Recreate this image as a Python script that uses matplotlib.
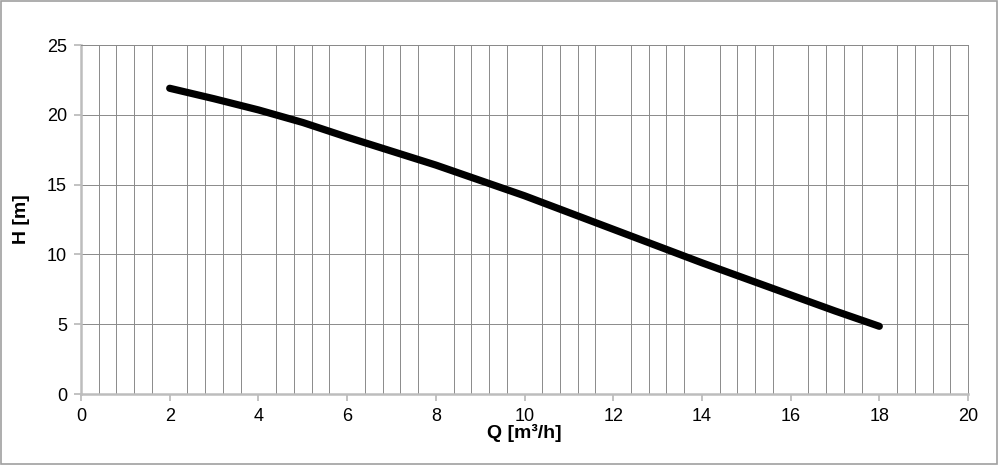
import matplotlib.pyplot as plt
from matplotlib.ticker import MultipleLocator
from matplotlib.patches import Rectangle

plt.rcParams['font.family'] = ['Liberation Sans', 'DejaVu Sans']

# pump curve
q = [2, 3, 4, 5, 6, 7, 8, 9, 10, 11, 12, 13, 14, 15, 16, 17, 18]
h = [21.9, 21.15, 20.35, 19.45, 18.4, 17.4, 16.4, 15.3, 14.2, 13.0, 11.8, 10.6, 9.4, 8.25, 7.1, 5.95, 4.85]

fig = plt.figure(figsize=(9.99, 4.65), dpi=100)
ax = fig.add_axes([81 / 999, 71 / 465, 887 / 999, 349 / 465])

ax.plot(q, h, color='black', lw=5.2, solid_capstyle='round', solid_joinstyle='round', zorder=3)

ax.set_xlim(0, 20)
ax.set_ylim(0, 25)
ax.xaxis.set_major_locator(MultipleLocator(2))
ax.xaxis.set_minor_locator(MultipleLocator(0.4))
ax.yaxis.set_major_locator(MultipleLocator(5))

ax.grid(False)
ax.grid(True, axis='x', which='minor', color='#8a8a8a', lw=0.7)
ax.grid(True, axis='y', which='major', color='#8a8a8a', lw=0.7)

ax.tick_params(which='major', length=5, width=1.2, color='#b8b8b8', labelsize=13, pad=5)
ax.tick_params(which='minor', length=0)

for s in ['left', 'bottom']:
    ax.spines[s].set_color('#bdbdbd')
    ax.spines[s].set_linewidth(1.8)
for s in ['top', 'right']:
    ax.spines[s].set_color('#8a8a8a')
    ax.spines[s].set_linewidth(0.7)

ax.set_xlabel('Q [m³/h]', fontsize=14, fontweight='bold', labelpad=-1)
ax.set_ylabel('H [m]', fontsize=14, fontweight='bold', labelpad=12)

fig.patches.append(Rectangle((0.001, 0.002), 0.997, 0.995, transform=fig.transFigure,
                             fill=False, edgecolor='#a0a0a0', lw=1.2))

fig.savefig('out.png', dpi=100)
